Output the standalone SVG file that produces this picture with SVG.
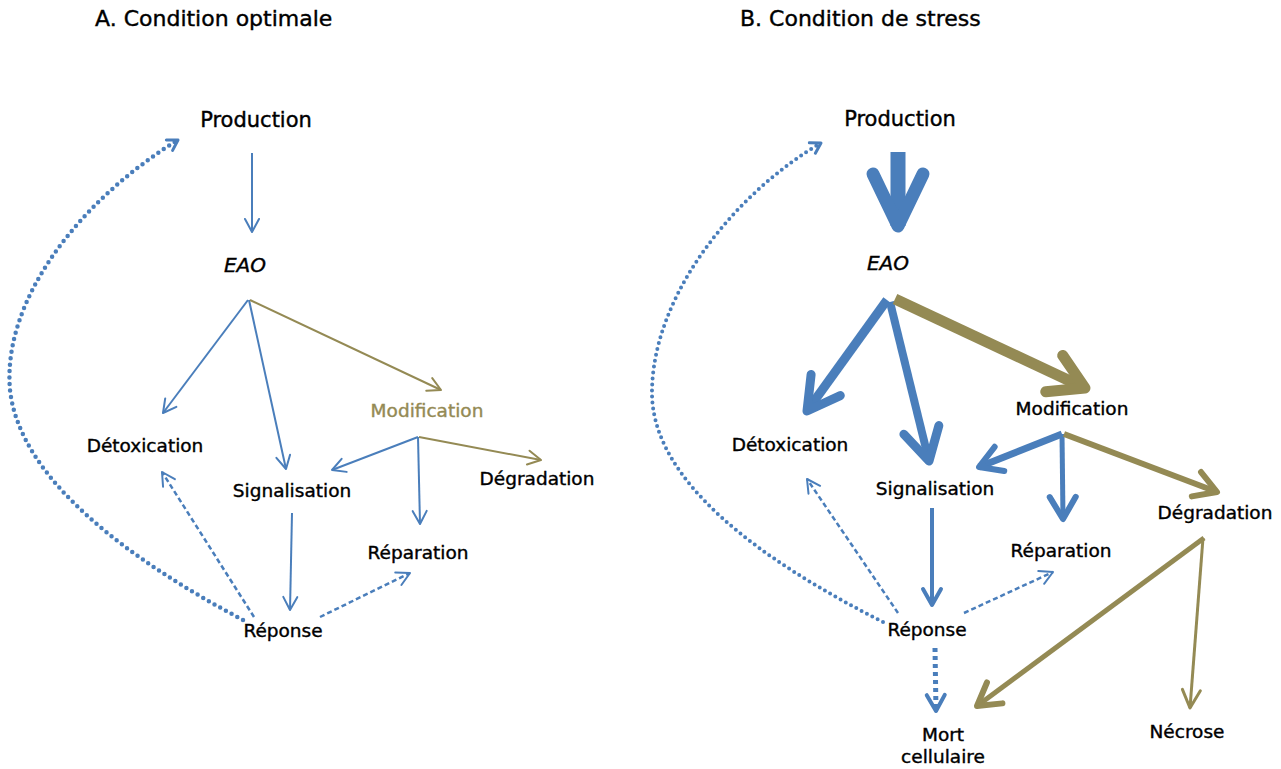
<svg xmlns="http://www.w3.org/2000/svg" width="1281" height="769" viewBox="0 0 1281 769">
<style>
text{font-family:"DejaVu Sans","Liberation Sans",sans-serif;fill:#000;stroke:#000;stroke-width:0.4px;text-anchor:middle;font-size:18.5px}
.title{font-size:22px;text-anchor:start}
.prod{font-size:21px}
.eao{font-style:italic;font-size:20px}
.olive-t{fill:#948A54;stroke:#948A54}
.b{stroke:#4A7EBB;fill:none}
.o{stroke:#948A54;fill:none}
.dash{stroke-dasharray:5 3}
.dot{stroke-linecap:round}
.mk{stroke-linecap:round;stroke-linejoin:round;fill:none}
</style>
<defs>
<marker id="mb0" markerUnits="userSpaceOnUse" orient="auto" overflow="visible" markerWidth="1" markerHeight="1"><path class="mk" d="M-10,-6 L0,0 L-10,6" stroke="#4A7EBB" stroke-width="3"/></marker>
<marker id="mb1" markerUnits="userSpaceOnUse" orient="auto" overflow="visible" markerWidth="1" markerHeight="1"><path class="mk" d="M-13,-7 L0,0 L-13,7" stroke="#4A7EBB" stroke-width="2"/></marker>
<marker id="mb2" markerUnits="userSpaceOnUse" orient="auto" overflow="visible" markerWidth="1" markerHeight="1"><path class="mk" d="M-16,-9 L0,0 L-16,9" stroke="#4A7EBB" stroke-width="4"/></marker>
<marker id="mb3" markerUnits="userSpaceOnUse" orient="auto" overflow="visible" markerWidth="1" markerHeight="1"><path class="mk" d="M-22,-13 L0,0 L-22,13" stroke="#4A7EBB" stroke-width="6"/></marker>
<marker id="mb4" markerUnits="userSpaceOnUse" orient="auto" overflow="visible" markerWidth="1" markerHeight="1"><path class="mk" d="M-32,-18 L0,0 L-32,18" stroke="#4A7EBB" stroke-width="9"/></marker>
<marker id="mb5" markerUnits="userSpaceOnUse" orient="auto" overflow="visible" markerWidth="1" markerHeight="1"><path class="mk" d="M-52,-25 L0,0 L-52,25" stroke="#4A7EBB" stroke-width="13"/></marker>
<marker id="mo1" markerUnits="userSpaceOnUse" orient="auto" overflow="visible" markerWidth="1" markerHeight="1"><path class="mk" d="M-13,-7 L0,0 L-13,7" stroke="#948A54" stroke-width="2"/></marker>
<marker id="mo2" markerUnits="userSpaceOnUse" orient="auto" overflow="visible" markerWidth="1" markerHeight="1"><path class="mk" d="M-18,-9 L0,0 L-18,9" stroke="#948A54" stroke-width="3"/></marker>
<marker id="mo3" markerUnits="userSpaceOnUse" orient="auto" overflow="visible" markerWidth="1" markerHeight="1"><path class="mk" d="M-22,-13 L0,0 L-22,13" stroke="#948A54" stroke-width="6"/></marker>
<marker id="mo4" markerUnits="userSpaceOnUse" orient="auto" overflow="visible" markerWidth="1" markerHeight="1"><path class="mk" d="M-34,-20 L0,0 L-34,20" stroke="#948A54" stroke-width="11"/></marker>
</defs>
<rect width="1281" height="769" fill="#fff"/>

<g id="connectors">
  <!-- Panel A -->
  <path class="b" stroke-width="2" d="M252,153 L252,232" marker-end="url(#mb1)"/>
  <path class="b" stroke-width="2" d="M248,300 L163,413" marker-end="url(#mb1)"/>
  <path class="b" stroke-width="2" d="M249,300 L286,469" marker-end="url(#mb1)"/>
  <path class="o" stroke-width="2" d="M250,300 L441,390" marker-end="url(#mo1)"/>
  <path class="b" stroke-width="2" d="M418,437 L332,470" marker-end="url(#mb1)"/>
  <path class="b" stroke-width="2" d="M418,437 L420,524" marker-end="url(#mb1)"/>
  <path class="o" stroke-width="2" d="M419,437 L541,460" marker-end="url(#mo1)"/>
  <path class="b" stroke-width="2" d="M292,513 L290,610" marker-end="url(#mb1)"/>
  <path class="b dash" stroke-width="2.5" d="M254,617 L162,472" marker-end="url(#mb1)"/>
  <path class="b dash" stroke-width="2.5" d="M320,617 L410,573" marker-end="url(#mb1)"/>
  <path class="b dot" stroke-width="4.5" stroke-dasharray="0 6.5" d="M243,620 C130,560 20,480 10,390 C2,300 80,200 178,140" marker-end="url(#mb0)"/>
  <!-- Panel B -->
  <path class="b" stroke-width="15" d="M898,152 L898,226" marker-end="url(#mb5)"/>
  <path class="b" stroke-width="9" d="M887,300 L807,411" marker-end="url(#mb4)"/>
  <path class="b" stroke-width="8" d="M890,302 L929,461" marker-end="url(#mb4)"/>
  <path class="o" stroke-width="11" d="M895,299 L1085,388" marker-end="url(#mo4)"/>
  <path class="b" stroke-width="7" d="M1062,434 L979,467" marker-end="url(#mb3)"/>
  <path class="b" stroke-width="5" d="M1062,434 L1063,519" marker-end="url(#mb3)"/>
  <path class="o" stroke-width="6" d="M1064,434 L1217,492" marker-end="url(#mo3)"/>
  <path class="b" stroke-width="4" d="M932,508 L932,605" marker-end="url(#mb2)"/>
  <path class="b dash" stroke-width="2.5" d="M898,613 L807,479" marker-end="url(#mb1)"/>
  <path class="b dash" stroke-width="2.5" d="M964,613 L1053,572" marker-end="url(#mb1)"/>
  <path class="b" stroke-width="5" stroke-dasharray="4 4" d="M935,648 L936,711" marker-end="url(#mb2)"/>
  <path class="o" stroke-width="5" d="M1204,538 L977,706" marker-end="url(#mo3)"/>
  <path class="o" stroke-width="3" d="M1203,538 L1190,708" marker-end="url(#mo2)"/>
  <path class="b dot" stroke-width="4" stroke-dasharray="0 6" d="M883,622 C760,560 650,480 652,390 C654,290 740,190 821,143" marker-end="url(#mb0)"/>
</g>

<g id="titleA"><text class="title" x="95" y="26">A. Condition optimale</text></g>
<g id="titleB"><text class="title" x="740" y="26">B. Condition de stress</text></g>

<g id="A-production"><text class="prod" x="256" y="127">Production</text></g>
<g id="A-eao"><text class="eao" x="245" y="272">EAO</text></g>
<g id="A-modification"><text class="olive-t" x="427" y="417">Modification</text></g>
<g id="A-detoxication"><text x="145" y="452">Détoxication</text></g>
<g id="A-signalisation"><text x="292" y="497">Signalisation</text></g>
<g id="A-degradation"><text x="537" y="485">Dégradation</text></g>
<g id="A-reparation"><text x="418" y="559">Réparation</text></g>
<g id="A-reponse"><text x="283" y="637">Réponse</text></g>

<g id="B-production"><text class="prod" x="900" y="126">Production</text></g>
<g id="B-eao"><text class="eao" x="888" y="270">EAO</text></g>
<g id="B-modification"><text x="1072" y="415">Modification</text></g>
<g id="B-detoxication"><text x="790" y="451">Détoxication</text></g>
<g id="B-signalisation"><text x="935" y="495">Signalisation</text></g>
<g id="B-degradation"><text x="1215" y="519">Dégradation</text></g>
<g id="B-reparation"><text x="1061" y="557">Réparation</text></g>
<g id="B-reponse"><text x="927" y="636">Réponse</text></g>
<g id="B-mort"><text x="943" y="741">Mort</text><text x="943" y="763">cellulaire</text></g>
<g id="B-necrose"><text x="1187" y="738">Nécrose</text></g>
</svg>
